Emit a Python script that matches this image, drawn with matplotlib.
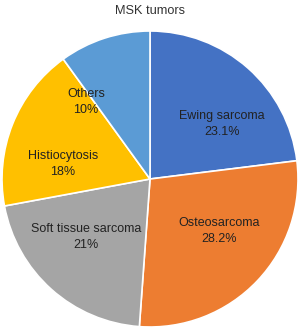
import matplotlib
matplotlib.use("Agg")
import matplotlib.pyplot as plt

categories = ["Ewing sarcoma", "Osteosarcoma", "Soft tissue sarcoma", "Histiocytosis", "Others"]
values = [23.1, 28.2, 21, 18, 10]
value_labels = ["23.1%", "28.2%", "21%", "18%", "10%"]
colors = ["#4472C4", "#ED7D31", "#A5A5A5", "#FFC000", "#5B9BD5"]
# label centers (in axes data units, pie radius = 1)
label_pos = [(0.487, 0.372), (0.466, -0.351), (-0.432, -0.392), (-0.588, 0.101), (-0.432, 0.52)]

plt.rcParams['font.family'] = ['Liberation Sans', 'DejaVu Sans']
fig = plt.figure(figsize=(3.0, 3.29), dpi=100)
cx, cy, r = 150, 179, 148
ax = fig.add_axes([(cx - r) / 300, (329 - cy - r) / 329, 2 * r / 300, 2 * r / 329])
ax.pie(values, colors=colors, startangle=90, counterclock=False, radius=1,
       wedgeprops=dict(edgecolor="white", linewidth=1.2), normalize=True)
ax.set_xlim(-1, 1)
ax.set_ylim(-1, 1)
ax.set_aspect("equal")
ax.axis("off")
for (x, y), c, v in zip(label_pos, categories, value_labels):
    ax.text(x, y, c + "\n" + v, ha="center", va="center", fontsize=9,
            color="#222222", linespacing=1.35)
fig.text(0.5, 1 - 11 / 329, "MSK tumors", ha="center", va="center", fontsize=9.2, color="#333333")
fig.savefig("out.png", dpi=100)
